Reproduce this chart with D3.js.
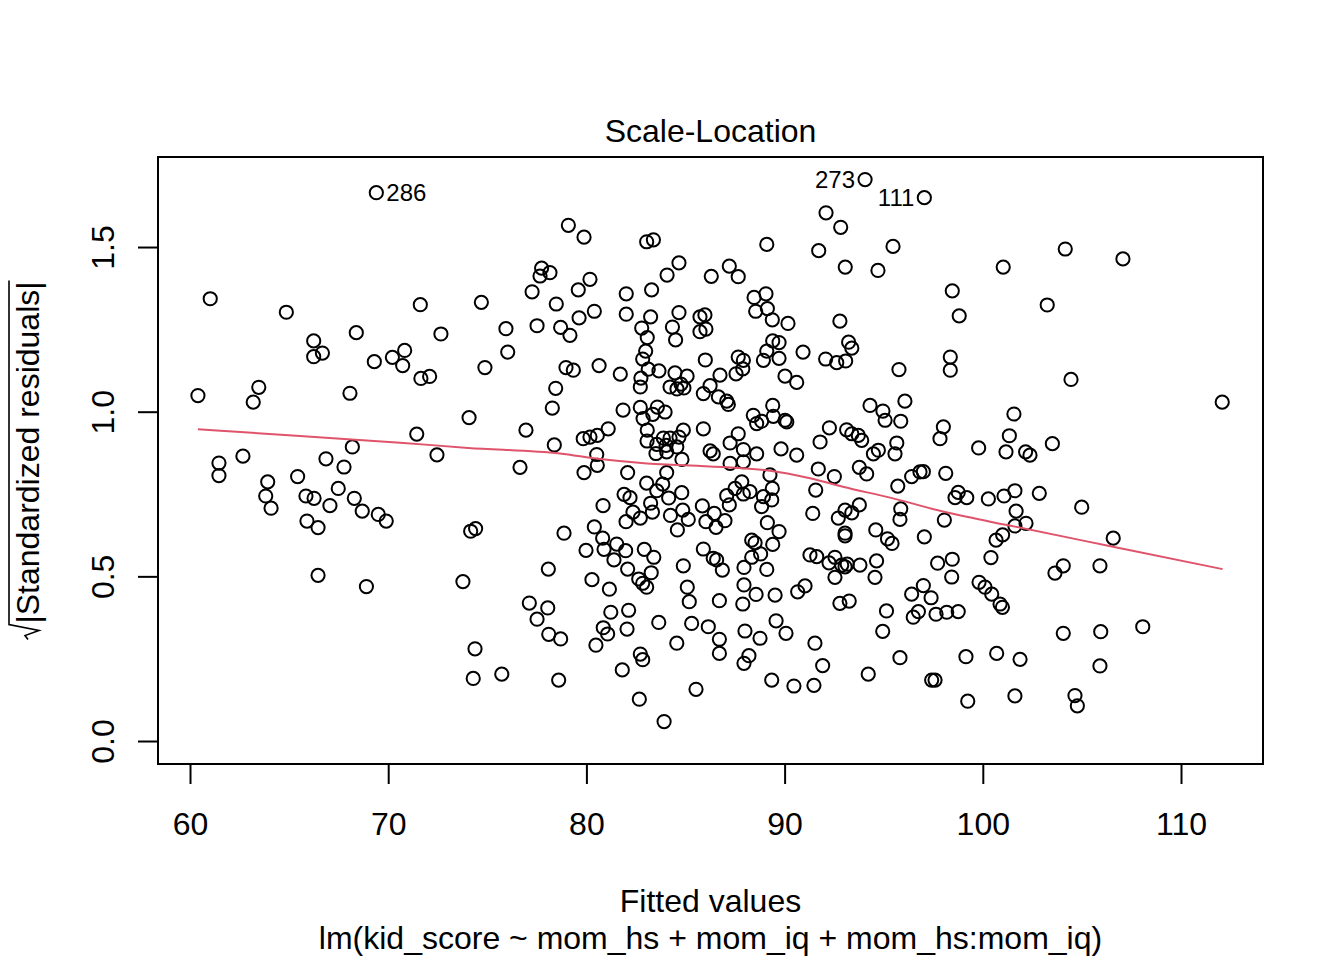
<!DOCTYPE html>
<html>
<head>
<meta charset="utf-8">
<script src="https://cdn.jsdelivr.net/npm/d3@7"></script>
<style>
  body { margin: 0; background: #fff; }
  svg text { font-family: "Liberation Sans", Arial, Helvetica, sans-serif; }
</style>
</head>
<body>
<div id="chart"></div>
<script>
// fitted values (x) and sqrt(|standardized residuals|) (y)
// first three are the labelled observations
const fittedValues = [
  69.40, 94.06, 97.05,
  61.02, 64.86, 71.62, 68.39, 72.66, 66.24, 66.24, 66.68, 69.30, 70.21, 70.83, 70.73, 71.65, 72.09,
  60.40, 63.47, 63.19, 68.07, 74.08, 71.44, 68.19, 72.46, 62.67, 61.46, 66.86, 67.77,
  61.46, 63.92, 65.43, 63.82, 64.09, 65.85, 66.26, 67.06, 67.48, 68.29, 68.69, 69.50, 69.90, 65.90,
  66.46, 66.46, 68.90, 73.77,
  79.09, 79.88, 83.04, 83.38, 77.74, 77.66, 78.16, 84.67, 84.07, 80.18, 79.59, 77.26, 74.70, 82.01,
  83.29, 78.48, 80.40, 79.63, 82.01, 83.24, 84.67, 75.94, 77.51, 78.70, 79.17, 82.79, 83.07, 84.34,
  84.50, 76.03, 82.99, 82.84, 74.88, 78.97, 79.34, 80.64, 81.71, 83.12, 83.66, 84.47, 85.08, 84.77,
  84.92, 84.57, 84.22, 82.75, 82.72, 78.45, 78.28, 81.85, 82.72, 83.58, 83.97, 83.35, 82.86, 76.95,
  83.07, 81.10, 79.84, 80.18, 80.55, 78.38, 83.06, 84.22, 84.67, 84.89, 84.56, 83.88, 84.02, 83.55,
  80.52, 83.51, 84.05,
  76.65, 80.55, 79.88, 82.08, 84.05, 84.82, 83.04, 83.85, 83.55, 81.90, 82.20, 84.15, 84.81, 80.84,
  83.24, 83.33, 82.35, 82.72, 82.00, 84.24, 84.86, 84.59, 74.16, 74.41, 78.87, 80.40, 80.82, 81.53,
  80.89, 79.98, 81.98, 82.92, 83.40, 81.39, 82.08, 83.27, 82.64, 82.84, 83.04, 84.89, 78.08, 80.28,
  81.16, 77.12, 78.05, 77.51, 81.23, 82.13, 83.65, 80.85, 81.07, 82.05, 80.48, 78.10, 78.70, 84.56,
  74.38, 82.72, 82.84, 74.29, 75.73, 78.60, 81.81, 82.67, 83.92,
  92.09, 92.83, 89.10, 91.72, 95.47, 86.30, 87.21, 87.66, 93.06, 94.71, 88.46, 89.06, 88.54, 89.13,
  89.38, 90.17, 85.73, 85.98, 85.73, 86.03, 92.79, 89.40, 89.72, 89.10, 88.93, 89.72, 90.93, 93.23,
  93.39, 92.07, 92.63, 93.08, 86.00, 87.66, 87.92, 87.89, 87.55, 86.74, 90.02, 90.61, 86.24, 85.90,
  86.66, 87.08, 87.16, 89.40, 88.42, 88.59, 88.84, 89.43, 90.02, 90.11, 85.90, 87.66, 87.25, 87.92,
  86.24, 86.40, 88.59, 89.82, 90.61, 92.26, 91.79, 93.13, 93.39, 93.72, 93.89, 94.31, 94.96, 95.07,
  94.73, 94.48,
  87.25, 87.92, 89.26, 91.70, 92.51, 93.77, 94.14, 87.84, 87.50, 87.08, 87.92, 88.25, 88.93, 89.38,
  89.35, 88.84, 87.21, 85.85, 85.14, 86.03, 86.45, 86.54, 86.99, 91.57, 91.42, 89.13, 89.72, 92.71,
  93.05, 93.39, 93.77, 93.05, 93.05, 94.60, 95.19, 95.42, 88.34, 88.51, 89.40, 88.79, 88.34, 85.90,
  86.40, 86.57, 86.86, 87.95, 89.10, 91.28, 91.62, 92.24, 92.54, 92.88, 93.05, 93.16, 93.80, 94.64,
  92.54, 94.56, 85.09, 85.19, 86.71, 87.95, 88.56, 87.89, 89.52, 90.66, 91.03, 92.79, 93.26, 95.14,
  94.95, 85.31, 86.15, 86.71, 86.71, 88.00, 88.76, 89.57, 90.07, 88.20, 87.95, 91.53, 91.92, 89.35,
  90.47, 91.48, 94.22, 85.53,
  98.46, 98.81, 101.03, 104.16, 107.07, 103.25, 95.77, 98.36, 98.36, 104.45, 112.08, 96.07, 95.86,
  101.57, 98.01, 97.84, 101.34, 99.79, 101.17, 102.16, 102.38, 103.51, 95.66, 95.57,
  96.41, 96.83, 97.00, 98.13, 95.71, 95.86, 95.82, 98.76, 98.60, 99.19, 100.28, 101.07, 101.62,
  102.85, 104.99, 101.68, 101.62, 102.18, 98.06, 101.00, 100.67, 106.58, 97.05, 100.41, 97.72, 98.46,
  98.43, 104.06, 103.64, 105.91, 99.81, 100.11, 100.45, 100.87, 100.99, 97.00, 96.41, 97.39, 96.75,
  96.49, 97.64, 98.18, 98.76, 104.06, 105.95, 108.07, 95.82, 99.15, 100.70, 101.88, 105.91, 97.42,
  97.59, 99.24, 101.62, 104.65, 104.77
];

const sqrtStdResid = [
  1.665, 1.705, 1.650,
  1.343, 1.302, 1.325, 1.240, 1.236, 1.215, 1.167, 1.178, 1.152, 1.165, 1.186, 1.140, 1.101, 1.107,
  1.049, 1.074, 1.029, 1.056, 0.982, 0.932, 0.893, 0.869, 0.865, 0.844, 0.857, 0.832,
  0.806, 0.787, 0.803, 0.744, 0.707, 0.744, 0.737, 0.715, 0.767, 0.737, 0.698, 0.688, 0.668, 0.668,
  0.648, 0.503, 0.469, 0.484,
  1.566, 1.530, 1.516, 1.522, 1.436, 1.412, 1.422, 1.452, 1.415, 1.402, 1.370, 1.364, 1.332, 1.358,
  1.370, 1.327, 1.305, 1.285, 1.296, 1.288, 1.301, 1.252, 1.261, 1.256, 1.232, 1.254, 1.225, 1.257,
  1.218, 1.181, 1.184, 1.160, 1.134, 1.134, 1.126, 1.140, 1.114, 1.129, 1.124, 1.118, 1.108, 1.084,
  1.072, 1.069, 1.075, 1.102, 1.075, 1.071, 1.011, 1.005, 1.013, 1.014, 0.999, 0.992, 0.979, 0.944,
  0.944, 0.948, 0.918, 0.923, 0.928, 0.899, 0.911, 0.920, 0.923, 0.944, 0.893, 0.920, 0.898, 0.901,
  0.870, 0.873, 0.878,
  0.831, 0.837, 0.815, 0.815, 0.815, 0.855, 0.783, 0.780, 0.760, 0.749, 0.739, 0.738, 0.754, 0.715,
  0.722, 0.695, 0.695, 0.677, 0.666, 0.685, 0.701, 0.641, 0.637, 0.645, 0.631, 0.650, 0.616, 0.598,
  0.582, 0.579, 0.578, 0.582, 0.558, 0.550, 0.522, 0.511, 0.492, 0.479, 0.467, 0.532, 0.522, 0.490,
  0.461, 0.419, 0.404, 0.370, 0.391, 0.397, 0.360, 0.344, 0.325, 0.340, 0.291, 0.324, 0.310, 0.297,
  0.280, 0.264, 0.247, 0.190, 0.203, 0.185, 0.216, 0.127, 0.059,
  1.604, 1.560, 1.508, 1.489, 1.502, 1.411, 1.442, 1.410, 1.439, 1.429, 1.347, 1.358, 1.305, 1.313,
  1.279, 1.268, 1.288, 1.294, 1.243, 1.251, 1.275, 1.215, 1.210, 1.184, 1.156, 1.162, 1.181, 1.211,
  1.193, 1.160, 1.149, 1.154, 1.157, 1.166, 1.156, 1.130, 1.115, 1.111, 1.108, 1.089, 1.079, 1.055,
  1.045, 1.032, 1.022, 1.019, 0.989, 0.964, 0.971, 0.986, 0.974, 0.969, 0.948, 0.933, 0.905, 0.885,
  0.881, 0.872, 0.872, 0.887, 0.868, 0.951, 0.908, 0.945, 0.933, 0.928, 0.913, 1.019, 1.002, 0.974,
  0.883, 0.872,
  0.843, 0.848, 0.808, 0.826, 0.803, 0.831, 0.811, 0.787, 0.767, 0.745, 0.750, 0.757, 0.742, 0.767,
  0.732, 0.712, 0.717, 0.714, 0.673, 0.666, 0.691, 0.649, 0.669, 0.762, 0.691, 0.663, 0.636, 0.677,
  0.701, 0.693, 0.717, 0.631, 0.623, 0.641, 0.614, 0.600, 0.610, 0.602, 0.597, 0.568, 0.558, 0.583,
  0.555, 0.550, 0.519, 0.527, 0.521, 0.565, 0.560, 0.541, 0.558, 0.534, 0.529, 0.537, 0.534, 0.547,
  0.497, 0.497, 0.467, 0.423, 0.426, 0.474, 0.445, 0.416, 0.443, 0.453, 0.471, 0.418, 0.425, 0.395,
  0.333, 0.357, 0.347, 0.309, 0.266, 0.334, 0.312, 0.365, 0.327, 0.259, 0.236, 0.297, 0.229, 0.185,
  0.167, 0.169, 0.203, 0.157,
  1.367, 1.291, 1.439, 1.494, 1.464, 1.324, 1.128, 1.166, 1.126, 1.098, 1.029, 1.032, 0.971,
  0.993, 0.954, 0.918, 0.927, 0.890, 0.878, 0.878, 0.868, 0.903, 0.905, 0.872,
  0.803, 0.817, 0.818, 0.813, 0.774, 0.705, 0.673, 0.755, 0.739, 0.739, 0.735, 0.744, 0.760,
  0.752, 0.710, 0.698, 0.653, 0.661, 0.671, 0.626, 0.610, 0.616, 0.620, 0.557, 0.540, 0.552,
  0.498, 0.532, 0.510, 0.532, 0.482, 0.467, 0.446, 0.416, 0.406, 0.472, 0.446, 0.435, 0.393,
  0.376, 0.385, 0.391, 0.393, 0.327, 0.332, 0.347, 0.253, 0.256, 0.266, 0.248, 0.228, 0.185,
  0.185, 0.121, 0.137, 0.138, 0.107
];

// labelled extreme observations
const labelIndex = [0, 1, 2];
const labelText = ["286", "273", "111"];
const labelSide = ["right", "left", "left"];

// lowess smoother
const smoothX = [60.40, 65.55, 70.60, 74.03, 78.67, 80.69, 83.06, 84.72, 89.26, 91.28, 92.94, 95.32, 98.04, 101.62, 106.57, 112.10];
const smoothY = [0.947, 0.926, 0.906, 0.890, 0.873, 0.856, 0.843, 0.838, 0.821, 0.798, 0.772, 0.739, 0.696, 0.651, 0.590, 0.522];

const xTicks = [60, 70, 80, 90, 100, 110];
const yTicks = [0, 0.5, 1.0, 1.5];
const xLim = [58.385, 114.137];
const yLim = [-0.0698, 1.7734];

const titleText = "Scale-Location";
const xLabelText = "Fitted values";
const subCaption = "lm(kid_score ~ mom_hs + mom_iq + mom_hs:mom_iq)";
const yLabelBody = "|Standardized residuals|";

const config = {
  width: 1344,
  height: 960,
  margin: { top: 157, right: 81, bottom: 196, left: 158 },
  font: 32,
  smallFont: 24,
  red: "#DF536B"
};

const W = config.width, H = config.height, m = config.margin;

const svg = d3.select("#chart")
  .append("svg")
  .attr("width", W)
  .attr("height", H);

svg.append("rect")
  .attr("width", W)
  .attr("height", H)
  .attr("fill", "#fff");

const x = d3.scaleLinear().domain(xLim).range([m.left, W - m.right]);
const y = d3.scaleLinear().domain(yLim).range([H - m.bottom, m.top]);

// x axis
const gx = svg.append("g")
  .attr("transform", `translate(0,${H - m.bottom})`)
  .call(d3.axisBottom(x).tickValues(xTicks).tickSize(20).tickSizeOuter(0).tickPadding(28))
  .attr("font-size", config.font)
  .attr("font-family", null);
gx.select(".domain").remove();
gx.selectAll(".tick line").attr("stroke", "#000").attr("stroke-width", 2);
gx.selectAll(".tick text").attr("fill", "#000");

// y axis, labels rotated like R's las = 0
const gy = svg.append("g")
  .attr("transform", `translate(${m.left},0)`)
  .call(d3.axisLeft(y).tickValues(yTicks).tickSize(20).tickSizeOuter(0).tickFormat(d3.format(".1f")))
  .attr("font-size", config.font)
  .attr("font-family", null);
gy.select(".domain").remove();
gy.selectAll(".tick line").attr("stroke", "#000").attr("stroke-width", 2);
gy.selectAll(".tick text")
  .attr("x", null)
  .attr("dy", null)
  .attr("fill", "#000")
  .attr("text-anchor", "middle")
  .attr("transform", "translate(-44,0) rotate(-90)");

// plot box
svg.append("rect")
  .attr("x", m.left)
  .attr("y", m.top)
  .attr("width", W - m.left - m.right)
  .attr("height", H - m.top - m.bottom)
  .attr("fill", "none")
  .attr("stroke", "#000")
  .attr("stroke-width", 2);

// points
svg.append("g")
  .selectAll("circle")
  .data(fittedValues.map((v, i) => ({ fx: v, r: sqrtStdResid[i] })))
  .enter()
  .append("circle")
  .attr("cx", d => x(d.fx))
  .attr("cy", d => y(d.r))
  .attr("r", 6.6)
  .attr("fill", "none")
  .attr("stroke", "#000")
  .attr("stroke-width", 2);

// smoother
svg.append("path")
  .datum(smoothX.map((v, i) => [v, smoothY[i]]))
  .attr("d", d3.line().x(d => x(d[0])).y(d => y(d[1])).curve(d3.curveMonotoneX))
  .attr("fill", "none")
  .attr("stroke", config.red)
  .attr("stroke-width", 2);

// id labels
svg.append("g")
  .selectAll("text")
  .data(labelIndex)
  .enter()
  .append("text")
  .attr("x", (d, i) => x(fittedValues[d]) + (labelSide[i] === "right" ? 10 : -10))
  .attr("y", d => y(sqrtStdResid[d]))
  .attr("dy", "0.36em")
  .attr("text-anchor", (d, i) => labelSide[i] === "right" ? "start" : "end")
  .attr("font-size", config.smallFont)
  .text((d, i) => labelText[i]);

// titles
const cx = (m.left + W - m.right) / 2;
svg.append("text")
  .attr("x", cx).attr("y", 142)
  .attr("text-anchor", "middle")
  .attr("font-size", config.font)
  .text(titleText);

svg.append("text")
  .attr("x", cx).attr("y", 912)
  .attr("text-anchor", "middle")
  .attr("font-size", config.font)
  .text(xLabelText);

svg.append("text")
  .attr("x", cx).attr("y", 949)
  .attr("text-anchor", "middle")
  .attr("font-size", config.font)
  .text(subCaption);

// y label: sqrt(|Standardized residuals|)
const cy = (m.top + H - m.bottom) / 2;
const yl = svg.append("g")
  .attr("transform", `translate(39,${cy}) rotate(-90)`);
const body = yl.append("text")
  .attr("font-size", config.font)
  .text(yLabelBody);
const L = body.node().getComputedTextLength();
const radW = 16;
const s = -(L + radW) / 2;
body.attr("x", s + radW);
yl.append("path")
  .attr("d", `M${s},-11 L${s + 4},-14 L${s + 9},0 L${s + 15},-30 L${s + radW + L + 1},-30`)
  .attr("fill", "none")
  .attr("stroke", "#000")
  .attr("stroke-width", 1.6);
</script>
</body>
</html>
